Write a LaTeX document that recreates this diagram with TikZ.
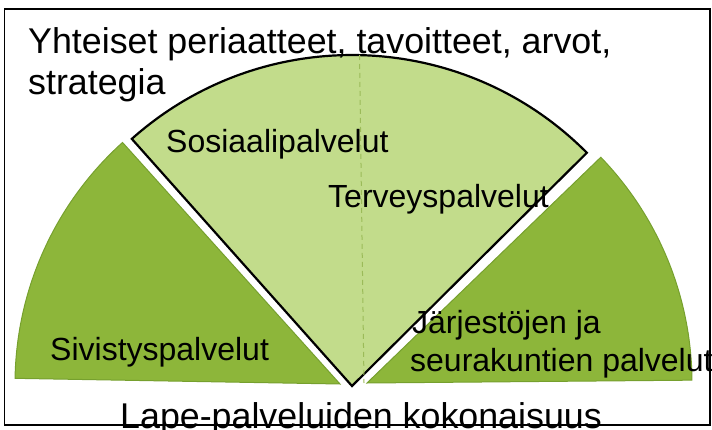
\documentclass[tikz,border=0pt]{standalone}
\usepackage{fontspec}
\setmainfont{Liberation Sans}
\definecolor{darkg}{HTML}{8DB63A}
\definecolor{darkgline}{HTML}{76A02E}
\definecolor{lightg}{HTML}{C2DC8B}
\definecolor{dashg}{HTML}{9BBB59}
\begin{document}
\begin{tikzpicture}[x=1pt,y=1pt,
  bigtext/.style={font=\fontsize{35.8}{41}\selectfont, anchor=base west, inner sep=0pt},
  labeltext/.style={font=\fontsize{32}{38}\selectfont, anchor=base west, inner sep=0pt},
  sidesector/.style={fill=darkg, draw=darkgline, line width=1pt},
  midsector/.style={fill=lightg, draw=black, line width=2.2pt, line join=miter},
  frame/.style={draw=black, line width=1.8pt},
  divider/.style={draw=dashg, line width=1pt, dash pattern=on 5pt off 4pt}]
\useasboundingbox (0,0) rectangle (712,429);
\clip (0,0) rectangle (712,429);
% frame
\draw[frame] (4.5,4) rectangle (710,420);
% sector centres
\coordinate (cl) at (340,45);
\coordinate (cm) at (352,43);
\coordinate (cr) at (367,46);
% left sector
\path[sidesector] (cl) -- ++(179:325) arc[start angle=179, end angle=132, radius=325] -- cycle;
% right sector
\path[sidesector] (cr) -- ++(0.5:325) arc[start angle=0.5, end angle=44, radius=325] -- cycle;
% middle sector
\path[midsector] (cm) -- ++(44.8:331) arc[start angle=44.8, end angle=131.7, radius=331] -- cycle;
% divider
\coordinate (dtop) at (359.5,374);
\coordinate (dbot) at (364,46);
\draw[divider] (dtop) -- (dbot);
% texts
\node[bigtext] (title1) at (28,375.5) {Yhteiset periaatteet, tavoitteet, arvot,};
\node[bigtext] (title2) at (28,334) {strategia};
\node[labeltext] (sos) at (166,276) {Sosiaalipalvelut};
\node[labeltext] (terv) at (328,222) {Terveyspalvelut};
\node[labeltext] (jar) at (412,96) {Järjestöjen ja};
\node[labeltext] (seur) at (410,58) {seurakuntien palvelut};
\node[labeltext] (siv) at (50,69) {Sivistyspalvelut};
\node[bigtext] (lape) at (120,1) {Lape-palveluiden kokonaisuus};
\end{tikzpicture}
\end{document}
